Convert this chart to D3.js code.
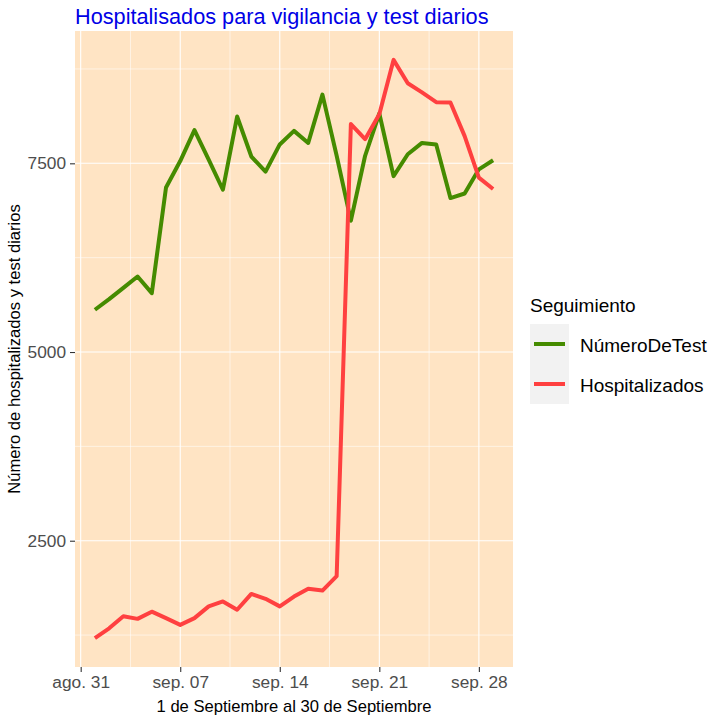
<!DOCTYPE html>
<html>
<head>
<meta charset="utf-8">
<script src="https://cdn.jsdelivr.net/npm/d3@7"></script>
<style>
  body { margin: 0; background: #fff; }
  text { font-family: "Liberation Sans", Arial, sans-serif; }
</style>
</head>
<body>
<svg id="chart" width="720" height="720"></svg>
<script>
// Daily data, 1 to 29 September
const days = ["2020-09-01", "2020-09-02", "2020-09-03", "2020-09-04", "2020-09-05", "2020-09-06",
    "2020-09-07", "2020-09-08", "2020-09-09", "2020-09-10", "2020-09-11", "2020-09-12", "2020-09-13",
    "2020-09-14", "2020-09-15", "2020-09-16", "2020-09-17", "2020-09-18", "2020-09-19", "2020-09-20",
    "2020-09-21", "2020-09-22", "2020-09-23", "2020-09-24", "2020-09-25", "2020-09-26", "2020-09-27",
    "2020-09-28", "2020-09-29"];

const numeroDeTest = [5560, 5700, 5850, 6000, 5780, 7180, 7530, 7940, 7550, 7150, 8120, 7590, 7390,
    7750, 7930, 7770, 8410, 7600, 6740, 7600, 8160, 7330, 7620, 7770, 7750, 7040, 7100, 7420, 7540];

const hospitalizados = [1210, 1340, 1500, 1465, 1560, 1475, 1385, 1475, 1630, 1695, 1585, 1795, 1730,
    1630, 1760, 1865, 1840, 2030, 8020, 7820, 8150, 8870, 8560, 8440, 8310, 8305, 7860, 7310, 7160];

const seriesNames = ["NúmeroDeTest", "Hospitalizados"];
const seriesColors = ["#458B00", "#FF4040"];

const yTicks = [2500, 5000, 7500];
const yMinor = [1250, 3750, 6250, 8750];
const xTickDays = ["2020-08-31", "2020-09-07", "2020-09-14", "2020-09-21", "2020-09-28"];
const xMinorDays = ["2020-09-03T12:00", "2020-09-10T12:00", "2020-09-17T12:00", "2020-09-24T12:00"];
const monthNames = ["ene.", "feb.", "mar.", "abr.", "may.", "jun.", "jul.", "ago.", "sep.", "oct.", "nov.", "dic."];

const parse = s => new Date(s.length > 10 ? s : s + "T00:00");
const dates = days.map(parse);

const panel = { left: 75, right: 513, top: 31, bottom: 667 };
const svg = d3.select('#chart');

// Scales with ggplot-like 5% expansion
const allValues = numeroDeTest.concat(hospitalizados);
const yMin = d3.min(allValues), yMax = d3.max(allValues);
const yPad = (yMax - yMin) * 0.05;
const y = d3.scaleLinear()
    .domain([yMin - yPad, yMax + yPad])
    .range([panel.bottom, panel.top]);

const xExt = d3.extent(dates);
const xPad = (xExt[1] - xExt[0]) * 0.05;
const x = d3.scaleTime()
    .domain([new Date(+xExt[0] - xPad), new Date(+xExt[1] + xPad)])
    .range([panel.left, panel.right]);

// Panel background
svg.append('rect')
    .attr('x', panel.left)
    .attr('y', panel.top)
    .attr('width', panel.right - panel.left)
    .attr('height', panel.bottom - panel.top)
    .attr('fill', '#FFE4C4');

// Grid lines
const grid = svg.append('g');
yMinor.forEach(v => {
    grid.append('line').attr('x1', panel.left).attr('x2', panel.right)
        .attr('y1', y(v)).attr('y2', y(v))
        .attr('stroke', '#fff').attr('stroke-width', 0.55);
});
xMinorDays.map(parse).forEach(d => {
    grid.append('line').attr('y1', panel.top).attr('y2', panel.bottom)
        .attr('x1', x(d)).attr('x2', x(d))
        .attr('stroke', '#fff').attr('stroke-width', 0.55);
});
yTicks.forEach(v => {
    grid.append('line').attr('x1', panel.left).attr('x2', panel.right)
        .attr('y1', y(v)).attr('y2', y(v))
        .attr('stroke', '#fff').attr('stroke-width', 1.1);
});
xTickDays.map(parse).forEach(d => {
    grid.append('line').attr('y1', panel.top).attr('y2', panel.bottom)
        .attr('x1', x(d)).attr('x2', x(d))
        .attr('stroke', '#fff').attr('stroke-width', 1.1);
});

// Lines
const line = d3.line()
    .x((d, i) => x(dates[i]))
    .y(d => y(d));

[numeroDeTest, hospitalizados].forEach((series, k) => {
    svg.append('path')
        .datum(series)
        .attr('d', line)
        .attr('fill', 'none')
        .attr('stroke', seriesColors[k])
        .attr('stroke-width', 4)
        .attr('stroke-linejoin', 'round');
});

// Axes
const formatDay = d => monthNames[d.getMonth()] + " " + d3.timeFormat("%d")(d);

const xAxis = svg.append('g')
    .attr('transform', `translate(0,${panel.bottom})`)
    .call(d3.axisBottom(x).tickValues(xTickDays.map(parse)).tickFormat(formatDay)
        .tickSizeInner(5).tickSizeOuter(0).tickPadding(4));

const yAxis = svg.append('g')
    .attr('transform', `translate(${panel.left},0)`)
    .call(d3.axisLeft(y).tickValues(yTicks).tickFormat(d3.format("d"))
        .tickSizeInner(5).tickSizeOuter(0).tickPadding(4));

[xAxis, yAxis].forEach(ax => {
    ax.select('.domain').remove();
    ax.selectAll('.tick line').attr('stroke', '#333333').attr('stroke-width', 1.1);
    ax.selectAll('.tick text')
        .attr('fill', '#4d4d4d')
        .style('font-size', '17.3px')
        .style('font-family', '"Liberation Sans", Arial, sans-serif');
});

// Title and axis titles
svg.append('text')
    .attr('x', panel.left)
    .attr('y', 24)
    .attr('fill', '#0000E6')
    .style('font-size', '21.7px')
    .text('Hospitalisados para vigilancia y test diarios');

svg.append('text')
    .attr('x', (panel.left + panel.right) / 2)
    .attr('y', 712)
    .attr('text-anchor', 'middle')
    .style('font-size', '16.6px')
    .text('1 de Septiembre al 30 de Septiembre');

svg.append('text')
    .attr('transform', `translate(20,${(panel.top + panel.bottom) / 2}) rotate(-90)`)
    .attr('text-anchor', 'middle')
    .style('font-size', '16.6px')
    .text('Número de hospitalizados y test diarios');

// Legend
const legend = svg.append('g').attr('transform', 'translate(530,0)');
legend.append('text')
    .attr('x', 0)
    .attr('y', 312)
    .style('font-size', '19px')
    .text('Seguimiento');

seriesNames.forEach((name, i) => {
    const top = 324 + i * 40;
    legend.append('rect')
        .attr('x', 0).attr('y', top)
        .attr('width', 39).attr('height', 40)
        .attr('fill', '#f2f2f2');
    legend.append('line')
        .attr('x1', 4).attr('x2', 35)
        .attr('y1', top + 20).attr('y2', top + 20)
        .attr('stroke', seriesColors[i])
        .attr('stroke-width', 4);
    legend.append('text')
        .attr('x', 50)
        .attr('y', top + 28)
        .style('font-size', '19px')
        .text(name);
});
</script>
</body>
</html>
